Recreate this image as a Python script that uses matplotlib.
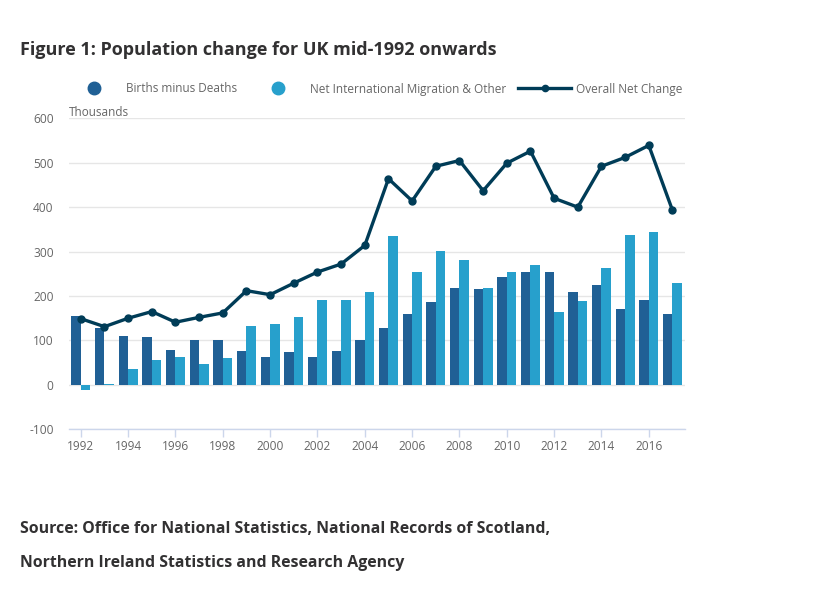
import matplotlib
matplotlib.use("Agg")
import matplotlib.pyplot as plt
from matplotlib.lines import Line2D
import numpy as np

years = list(range(1992, 2018))
births_minus_deaths = [156, 127, 111, 107, 78, 102, 100, 76, 62, 73, 62, 76, 102,
                       127, 159, 186, 219, 215, 242, 253, 253, 210, 224, 170, 192, 159]
net_migration = [-12, 2, 35, 55, 62, 46, 60, 132, 138, 152, 190, 192, 208,
                 334, 253, 302, 282, 219, 253, 269, 165, 188, 264, 338, 343, 230]
overall_net = [149, 131, 150, 165, 141, 152, 162, 212, 203, 229, 254, 272, 314,
               464, 414, 492, 505, 437, 499, 526, 420, 400, 492, 512, 539, 393]
y_ticks = [-100, 0, 100, 200, 300, 400, 500, 600]
x_tick_years = list(range(1992, 2017, 2))

DARK = "#206095"
LIGHT = "#27a0cc"
LINE = "#003c57"
GREY = "#666666"

plt.rcParams['font.family'] = ['Open Sans', 'DejaVu Sans']

W, H = 819, 594
fig = plt.figure(figsize=(W / 100, H / 100), dpi=100)

def fx(px):
    return px / W

def fy(py):
    return 1 - py / H

left, right, top, bottom = 69, 685, 118.3, 429.3
ax = fig.add_axes([fx(left), fy(bottom), (right - left) / W, (bottom - top) / H])

x = np.arange(len(years))
bw = 0.4
ax.bar(x - bw / 2, births_minus_deaths, width=bw, color=DARK, zorder=3, linewidth=0)
ax.bar(x + bw / 2, net_migration, width=bw, color=LIGHT, zorder=3, linewidth=0)
ax.plot(x, overall_net, color=LINE, linewidth=2.4, marker='o', markersize=5, zorder=4)

ax.set_xlim(-0.5, len(years) - 0.47)
ax.set_ylim(-100, 600)
ax.set_yticks(y_ticks)
ax.set_yticklabels([str(v) for v in y_ticks], fontsize=8.6, color=GREY)
ax.yaxis.grid(True, color="#e6e6e6", linewidth=1, zorder=0)
ax.tick_params(axis='y', length=0, pad=11)

tick_pos = [years.index(yv) for yv in x_tick_years]
ax.set_xticks(tick_pos)
ax.set_xticklabels([str(v) for v in x_tick_years], fontsize=8.6, color=GREY)
ax.tick_params(axis='x', length=6, color="#ccd6eb", width=1, pad=2)

for s in ['top', 'right', 'left']:
    ax.spines[s].set_visible(False)
ax.spines['bottom'].set_color("#ccd6eb")
ax.spines['bottom'].set_linewidth(1)

# Title
fig.text(fx(20), fy(50), "Figure 1: Population change for UK mid-1992 onwards",
         fontsize=13, fontweight='bold', color="#323132", va='center', ha='left')

# Legend (manual)
ly = fy(88)
fig.add_artist(Line2D([fx(94)], [ly], marker='o', markersize=9, color=DARK, linestyle='none',
                      transform=fig.transFigure))
fig.text(fx(126), fy(89), "Births minus Deaths", fontsize=8.5, color=GREY, va='center', ha='left')
fig.add_artist(Line2D([fx(278)], [ly], marker='o', markersize=9, color=LIGHT, linestyle='none',
                      transform=fig.transFigure))
fig.text(fx(310), fy(89), "Net International Migration & Other", fontsize=8.5, color=GREY,
         va='center', ha='left')
fig.add_artist(Line2D([fx(518), fx(571)], [ly, ly], color=LINE, linewidth=2.4,
                      transform=fig.transFigure))
fig.add_artist(Line2D([fx(545)], [ly], marker='o', markersize=4.5, color=LINE, linestyle='none',
                      transform=fig.transFigure))
fig.text(fx(576), fy(89), "Overall Net Change", fontsize=8.5, color=GREY, va='center', ha='left')

fig.text(fx(69), fy(112), "Thousands", fontsize=8.5, color=GREY, va='center', ha='left')

# Source
fig.text(fx(20), fy(529), "Source: Office for National Statistics, National Records of Scotland,",
         fontsize=11.4, fontweight='bold', color="#323132", va='center', ha='left')
fig.text(fx(20), fy(563), "Northern Ireland Statistics and Research Agency",
         fontsize=11.4, fontweight='bold', color="#323132", va='center', ha='left')

fig.savefig("out.png", dpi=100, facecolor='white')
